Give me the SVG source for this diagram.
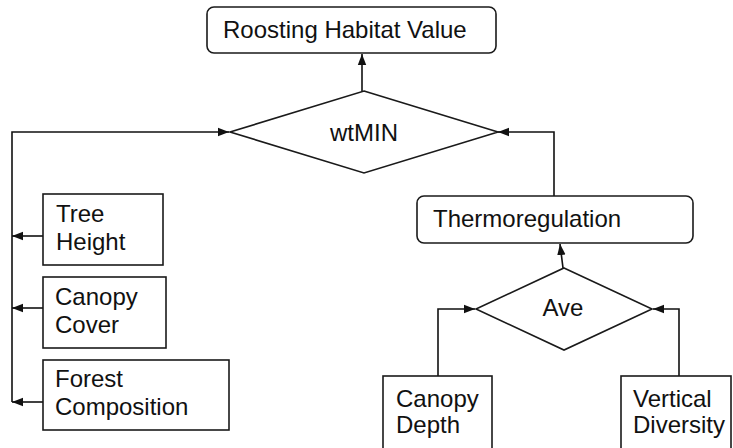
<svg xmlns="http://www.w3.org/2000/svg" width="733" height="448" viewBox="0 0 733 448">
<style>
.box{fill:#fff;stroke:#1a1a1a;stroke-width:1.6}
.t{font-family:"Liberation Sans",Arial,sans-serif;font-size:24px;fill:#111}
.c{fill:none;stroke:#111;stroke-width:1.6}
</style>
<defs>
<marker id="ah" markerUnits="userSpaceOnUse" markerWidth="12" markerHeight="10" viewBox="0 0 12 10" refX="11" refY="5" orient="auto">
<path d="M0,0.8 L11,5 L0,9.2 Z" fill="#111"/>
</marker>
</defs>
<rect width="733" height="448" fill="#fff"/>
<g id="connectors">
<path class="c" d="M362,91 V54" marker-end="url(#ah)"/>
<path class="c" d="M12,402 V132 H229" marker-end="url(#ah)"/>
<path class="c" d="M554,196 V132 H498" marker-end="url(#ah)"/>
<path class="c" d="M43,236 H12" marker-end="url(#ah)"/>
<path class="c" d="M43,308 H12" marker-end="url(#ah)"/>
<path class="c" d="M43,402 H12" marker-end="url(#ah)"/>
<path class="c" d="M563,268 L560,244" marker-end="url(#ah)"/>
<path class="c" d="M438,376 V309 H475" marker-end="url(#ah)"/>
<path class="c" d="M679,376 V309 H653" marker-end="url(#ah)"/>
</g>
<g id="roosting">
<rect class="box" x="207" y="7" width="289" height="46" rx="7"/>
<text class="t" x="223" y="38">Roosting Habitat Value</text>
</g>
<g id="wtmin">
<polygon class="box" points="364,91 498,132 364,173 230,132"/>
<text class="t" x="364" y="141" text-anchor="middle">wtMIN</text>
</g>
<g id="thermoregulation">
<rect class="box" x="417" y="196" width="276" height="47" rx="7"/>
<text class="t" x="433" y="227">Thermoregulation</text>
</g>
<g id="ave">
<polygon class="box" points="564,268 652,309 564,350 476,309"/>
<text class="t" x="563" y="316" text-anchor="middle">Ave</text>
</g>
<g id="tree-height">
<rect class="box" x="43" y="194" width="120" height="71"/>
<text class="t" x="56" y="222">Tree</text>
<text class="t" x="56" y="250">Height</text>
</g>
<g id="canopy-cover">
<rect class="box" x="43" y="277" width="123" height="71"/>
<text class="t" x="55" y="305">Canopy</text>
<text class="t" x="55" y="333">Cover</text>
</g>
<g id="forest-composition">
<rect class="box" x="43" y="360" width="186" height="70"/>
<text class="t" x="55" y="387">Forest</text>
<text class="t" x="55" y="415">Composition</text>
</g>
<g id="canopy-depth">
<rect class="box" x="383" y="376" width="109" height="80"/>
<text class="t" x="396" y="407">Canopy</text>
<text class="t" x="396" y="433">Depth</text>
</g>
<g id="vertical-diversity">
<rect class="box" x="621" y="376" width="110" height="80"/>
<text class="t" x="633" y="407">Vertical</text>
<text class="t" x="633" y="433">Diversity</text>
</g>
</svg>
